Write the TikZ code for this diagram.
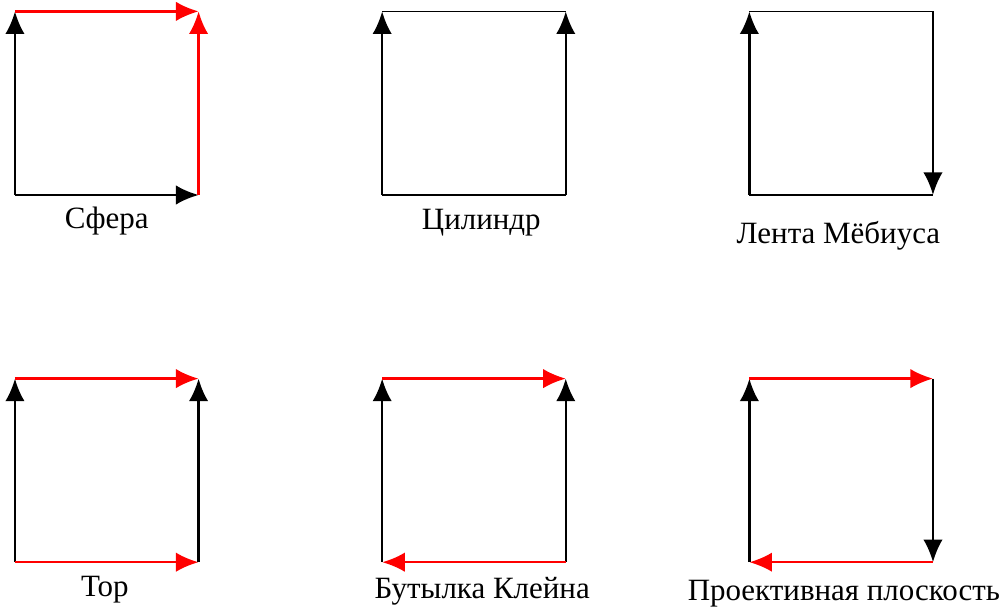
\documentclass[tikz,border=0pt]{standalone}
\usepackage{fontspec}
\setmainfont{Liberation Serif}
\usetikzlibrary{arrows.meta}
\tikzset{
  edgeplain/.style={draw=black, line width=0.4pt},
  edgeblack/.style={draw=black, line width=0.7pt, -{Latex[length=7pt,width=6pt]}},
  edgered/.style={draw=red, line width=0.7pt, -{Latex[length=7pt,width=6pt]}},
  lbl/.style={anchor=base, inner sep=0pt, font=\fontsize{9.6pt}{11.5pt}\selectfont}
}
\begin{document}
\begin{tikzpicture}
\useasboundingbox (-0.163,-4.488) rectangle (10.741,2.124);
% corners
\foreach \n/\ox/\oy in {a/0/0, b/4/0, c/8/0, d/0/-4, e/4/-4, f/8/-4}{
  \coordinate (\n1) at (\ox,\oy);
  \coordinate (\n2) at (\ox+2,\oy);
  \coordinate (\n3) at (\ox+2,\oy+2);
  \coordinate (\n4) at (\ox,\oy+2);
}
% Sphere
\draw[edgeblack] (a1) -- (a4);
\draw[edgeblack] (a1) -- (a2);
\draw[edgered] (a4) -- (a3);
\draw[edgered] (a2) -- (a3);
\node[lbl] (l1) at (1.0,-0.37) {Сфера};
% Cylinder
\draw[edgeplain] (b1) -- (b2);
\draw[edgeplain] (b4) -- (b3);
\draw[edgeblack] (b1) -- (b4);
\draw[edgeblack] (b2) -- (b3);
\node[lbl] (l2) at (5.08,-0.38) {Цилиндр};
% Moebius
\draw[edgeplain] (c1) -- (c2);
\draw[edgeplain] (c4) -- (c3);
\draw[edgeblack] (c1) -- (c4);
\draw[edgeblack] (c3) -- (c2);
\node[lbl] (l3) at (8.97,-0.53) {Лента Мёбиуса};
% Torus
\draw[edgeblack] (d1) -- (d4);
\draw[edgeblack] (d2) -- (d3);
\draw[edgered] (d4) -- (d3);
\draw[edgered] (d1) -- (d2);
\node[lbl] (l4) at (0.98,-4.37) {Тор};
% Klein bottle
\draw[edgeblack] (e1) -- (e4);
\draw[edgeblack] (e2) -- (e3);
\draw[edgered] (e4) -- (e3);
\draw[edgered] (e2) -- (e1);
\node[lbl] (l5) at (5.09,-4.39) {Бутылка Клейна};
% Projective plane
\draw[edgeblack] (f1) -- (f4);
\draw[edgeblack] (f3) -- (f2);
\draw[edgered] (f4) -- (f3);
\draw[edgered] (f2) -- (f1);
\node[lbl] (l6) at (9.03,-4.42) {Проективная плоскость};
\end{tikzpicture}
\end{document}
